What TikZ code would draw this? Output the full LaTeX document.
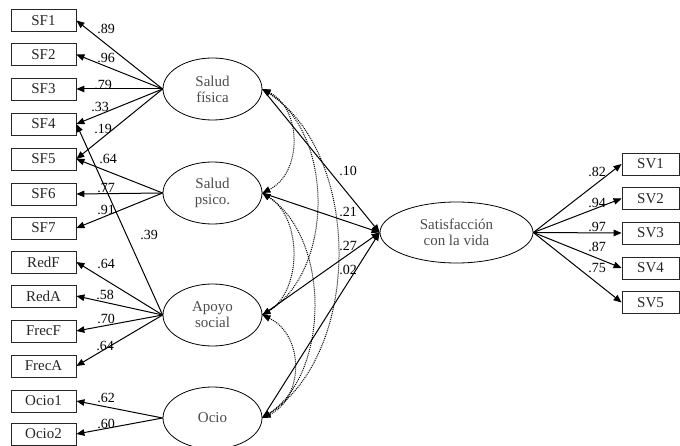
\documentclass[tikz,border=0pt]{standalone}
\usepackage{fontspec}
\setmainfont{Liberation Serif}
\usetikzlibrary{shapes.geometric,arrows.meta}
\begin{document}
\begin{tikzpicture}[x=1pt,y=-1pt,
  obs/.style={draw=black!85, line width=0.8pt, minimum width=65pt, minimum height=22pt, inner sep=0pt, font=\fontsize{15}{15}\selectfont, text=black!85},
  svbox/.style={obs, minimum width=57pt},
  lat/.style={ellipse, draw, line width=0.8pt, minimum width=99pt, minimum height=62pt, inner sep=0pt, align=center, font=\fontsize{15}{16}\selectfont, text=black!70},
  load/.style={line width=1pt, -{Triangle[length=8pt,width=6.5pt]}},
  cov/.style={line width=1pt, densely dotted, {Triangle[length=8pt,width=6.5pt]}-{Triangle[length=8pt,width=6.5pt]}},
  lbl/.style={font=\fontsize{14}{14}\selectfont, inner sep=0pt},
]
\useasboundingbox (0,0) rectangle (680,446);

% observed indicators (left)
\node[obs] (sf1) at (43.5,20.5) {SF1};
\node[obs] (sf2) at (43.5,54.5) {SF2};
\node[obs] (sf3) at (43.5,89) {SF3};
\node[obs] (sf4) at (43.5,124) {SF4};
\node[obs] (sf5) at (43.5,159) {SF5};
\node[obs] (sf6) at (43.5,194) {SF6};
\node[obs] (sf7) at (43.5,228) {SF7};
\node[obs] (redf) at (43.5,262) {RedF};
\node[obs] (reda) at (43.5,296) {RedA};
\node[obs] (frecf) at (43.5,331) {FrecF};
\node[obs] (freca) at (43.5,366) {FrecA};
\node[obs] (ocio1) at (43.5,401) {Ocio1};
\node[obs] (ocio2) at (43.5,434) {Ocio2};

% latent variables
\node[lat] (fis) at (212.5,89) {Salud\\física};
\node[lat] (psi) at (212.5,193) {Salud\\psico.};
\node[lat] (apo) at (212.5,315) {Apoyo\\social};
\node[lat] (oci) at (212.5,418) {Ocio};
\node[lat, minimum width=153pt, minimum height=61pt] (sat) at (456.5,232.5) {Satisfacción\\con la vida};

% observed indicators (right)
\node[svbox] (sv1) at (650.5,164) {SV1};
\node[svbox] (sv2) at (650.5,198.5) {SV2};
\node[svbox] (sv3) at (650.5,233) {SV3};
\node[svbox] (sv4) at (650.5,268) {SV4};
\node[svbox] (sv5) at (650.5,302.5) {SV5};

% loadings
\draw[load] (fis.west) -- (sf1.east);
\draw[load] (fis.west) -- (sf2.east);
\draw[load] (fis.west) -- (sf3.east);
\draw[load] (fis.west) -- (sf4.east);
\draw[load] (fis.west) -- (sf5.east);
\draw[load] (psi.west) -- (sf5.east);
\draw[load] (psi.west) -- (sf6.east);
\draw[load] (psi.west) -- (sf7.east);
\draw[load] (apo.west) -- (sf4.east);
\draw[load] (apo.west) -- (redf.east);
\draw[load] (apo.west) -- (reda.east);
\draw[load] (apo.west) -- (frecf.east);
\draw[load] (apo.west) -- (freca.east);
\draw[load] (oci.west) -- (ocio1.east);
\draw[load] (oci.west) -- (ocio2.east);

\draw[load] (sat.east) -- (sv1.west);
\draw[load] (sat.east) -- (sv2.west);
\draw[load] (sat.east) -- (sv3.west);
\draw[load] (sat.east) -- (sv4.west);
\draw[load] (sat.east) -- (sv5.west);

% structural paths
\draw[load] (fis.east) -- (sat.west);
\draw[load] (psi.east) -- (sat.west);
\draw[load] (apo.east) -- (sat.west);
\draw[load] (oci.east) -- (sat.west);

% covariances
\draw[cov] (fis.east) .. controls +(40,20) and +(40,-20) .. (psi.east);
\draw[cov] (psi.east) .. controls +(40,25) and +(40,-25) .. (apo.east);
\draw[cov] (apo.east) .. controls +(42,20) and +(42,-20) .. (oci.east);
\draw[cov] (fis.east) .. controls +(72,45) and +(72,-45) .. (apo.east);
\draw[cov] (psi.east) .. controls +(68,45) and +(68,-45) .. (oci.east);
\draw[cov] (fis.east) .. controls +(100,65) and +(100,-65) .. (oci.east);

% labels
\node[lbl] (l1) at (106,29) {.89};
\node[lbl] (l2) at (106,58) {.96};
\node[lbl] (l3) at (103,85) {.79};
\node[lbl] (l4) at (100,107) {.33};
\node[lbl] (l5) at (103,129) {.19};
\node[lbl] (l6) at (108,159) {.64};
\node[lbl] (l7) at (106,188) {.77};
\node[lbl] (l8) at (106,210) {.91};
\node[lbl] (l9) at (149,235) {.39};
\node[lbl] (l10) at (106,264) {.64};
\node[lbl] (l11) at (105,295) {.58};
\node[lbl] (l12) at (106,319) {.70};
\node[lbl] (l13) at (105,346) {.64};
\node[lbl] (l14) at (106,398) {.62};
\node[lbl] (l15) at (106,424) {.60};

\node[lbl] (s1) at (348,171) {.10};
\node[lbl] (s2) at (348,212) {.21};
\node[lbl] (s3) at (348,246) {.27};
\node[lbl] (s4) at (348,270) {.02};

\node[lbl] (r1) at (597,172) {.82};
\node[lbl] (r2) at (597,203) {.94};
\node[lbl] (r3) at (597,227) {.97};
\node[lbl] (r4) at (597,247) {.87};
\node[lbl] (r5) at (597,268) {.75};
\end{tikzpicture}
\end{document}
